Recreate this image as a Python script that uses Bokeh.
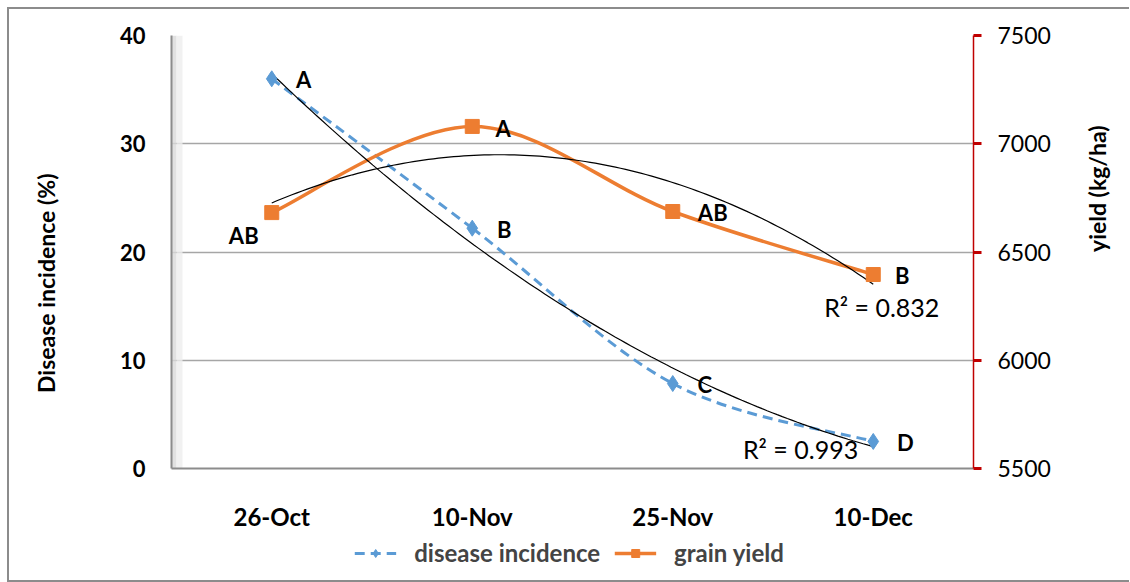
import numpy as np
from bokeh.plotting import figure
from bokeh.layouts import column, row
from bokeh.models import (Range1d, LinearAxis, Label, Legend, LegendItem, FactorRange,
                          FixedTicker, BoxAnnotation)
from bokeh.core.properties import value
from bokeh.embed import file_html
from bokeh.resources import INLINE

# ---- data ----
dates = ["26-Oct", "10-Nov", "25-Nov", "10-Dec"]
disease = [36.0, 22.2, 7.85, 2.5]
grain_yield = [6682, 7080, 6687, 6396]
disease_letters = ["A", "B", "C", "D"]
yield_letters = ["AB", "A", "AB", "B"]
left_ticks = [0, 10, 20, 30, 40]
right_ticks = [5500, 6000, 6500, 7000, 7500]

FONT = "Lato"
BLUE = "#5B9BD5"
ORANGE = "#ED7D31"
GREY = "#8C8C8C"

W, H1, H2, WT = 1120, 526, 45, 70
WP = W - WT

# ---- left strip carrying the y-axis title ----
tf = figure(width=WT, height=H1, x_range=Range1d(0, WT), y_range=Range1d(0, H1),
            output_backend="svg", toolbar_location=None, min_border=0)
tf.axis.visible = False
tf.grid.grid_line_color = None
tf.outline_line_color = None
tf.add_layout(Label(x=36, y=H1 - 301, text="Disease incidence (%)", angle=np.pi / 2,
                    text_font=FONT, text_font_size="23px", text_font_style="bold",
                    text_color="black", text_align="center", text_baseline="middle"))

# ---- main chart ----
p = figure(x_range=FactorRange(*dates), y_range=Range1d(0, 40),
           width=WP, height=H1, output_backend="svg", toolbar_location=None,
           min_border_left=92, min_border_right=WP - 894,
           min_border_top=26, min_border_bottom=H1 - 459)
p.extra_y_ranges = {"yield": Range1d(5500, 7500)}
p.outline_line_color = None

p.xaxis.axis_line_color = GREY
p.xaxis.axis_line_width = 2
p.xaxis.major_tick_line_color = None
p.xaxis.major_tick_out = 0
p.xaxis.major_tick_in = 0
p.xaxis.major_label_standoff = 33
p.xaxis.major_label_text_font = FONT
p.xaxis.major_label_text_font_style = "bold"
p.xaxis.major_label_text_font_size = "24px"
p.xaxis.major_label_text_color = "black"

p.yaxis.ticker = FixedTicker(ticks=left_ticks)
p.yaxis.axis_line_color = GREY
p.yaxis.axis_line_width = 2
p.yaxis.major_tick_line_color = None
p.yaxis.minor_tick_line_color = None
p.yaxis.major_tick_out = 0
p.yaxis.major_tick_in = 0
p.yaxis.major_label_standoff = 26
p.yaxis.major_label_text_font = FONT
p.yaxis.major_label_text_font_style = "bold"
p.yaxis.major_label_text_font_size = "22px"
p.yaxis.major_label_text_color = "black"

ry = LinearAxis(y_range_name="yield", ticker=FixedTicker(ticks=right_ticks))
ry.axis_line_color = "#C00000"
ry.axis_line_width = 1.5
ry.major_tick_line_color = "#C00000"
ry.major_tick_line_width = 3
ry.major_tick_out = 8
ry.major_tick_in = 0
ry.minor_tick_line_color = None
ry.major_label_standoff = 16
ry.major_label_text_font = FONT
ry.major_label_text_font_size = "23px"
ry.major_label_text_color = "black"
ry.axis_label = "yield (kg/ha)"
ry.axis_label_standoff = 43
ry.axis_label_text_font = FONT
ry.axis_label_text_font_style = "bold"
ry.axis_label_text_font_size = "23px"
ry.axis_label_text_color = "black"
if "axis_label_orientation" in ry.properties():
    ry.axis_label_orientation = np.pi / 2
p.add_layout(ry, "right")

p.xgrid.grid_line_color = None
p.ygrid.ticker = FixedTicker(ticks=left_ticks)
p.ygrid.grid_line_color = "#A6A6A6"
p.ygrid.grid_line_width = 1.5

# soft shadow next to the left axis
p.add_layout(BoxAnnotation(left=0, right=0.025, fill_color="#d9d9d9", fill_alpha=0.8,
                           line_color=None, level="underlay"))
p.add_layout(BoxAnnotation(left=0.025, right=0.055, fill_color="#eeeeee", fill_alpha=0.8,
                           line_color=None, level="underlay"))

xs = np.arange(len(dates)) + 0.5


def smooth(xv, yv):
    n = len(xv)
    d = dict(x0=[], y0=[], x1=[], y1=[], cx0=[], cy0=[], cx1=[], cy1=[])
    for i in range(n - 1):
        a = max(i - 1, 0)
        b = min(i + 2, n - 1)
        d["x0"].append(xv[i]); d["y0"].append(yv[i])
        d["x1"].append(xv[i + 1]); d["y1"].append(yv[i + 1])
        d["cx0"].append(xv[i] + (xv[i + 1] - xv[a]) / 6)
        d["cy0"].append(yv[i] + (yv[i + 1] - yv[a]) / 6)
        d["cx1"].append(xv[i + 1] - (xv[b] - xv[i]) / 6)
        d["cy1"].append(yv[i + 1] - (yv[b] - yv[i]) / 6)
    return d


# trendlines (2nd order polynomial)
t = np.linspace(xs[0], xs[-1], 120)
cd = np.polyfit(xs, disease, 2)
cy = np.polyfit(xs, grain_yield, 2)


def r2(c, x, y):
    y = np.asarray(y, float)
    f = np.polyval(c, x)
    return 1 - np.sum((y - f) ** 2) / np.sum((y - y.mean()) ** 2)


p.bezier(source=smooth(list(xs), disease), x0="x0", y0="y0", x1="x1", y1="y1",
         cx0="cx0", cy0="cy0", cx1="cx1", cy1="cy1",
         line_color=BLUE, line_width=3, line_dash="10 6")
p.bezier(source=smooth(list(xs), grain_yield), x0="x0", y0="y0", x1="x1", y1="y1",
         cx0="cx0", cy0="cy0", cx1="cx1", cy1="cy1",
         line_color=ORANGE, line_width=3.5, y_range_name="yield")
p.line(t, np.polyval(cd, t), line_color="black", line_width=1.2)
p.line(t, np.polyval(cy, t), line_color="black", line_width=1.2, y_range_name="yield")
p.scatter(x=dates, y=disease, marker="diamond", size=16, color=BLUE)
p.scatter(x=dates, y=grain_yield, marker="square", size=14, color=ORANGE, y_range_name="yield")

txt = dict(text_font=value(FONT), text_font_style="bold", text_font_size="22px",
           text_color="black", text_baseline="middle", text_align="center")
p.text(x=dates, y=disease, text=disease_letters, x_offset=32, y_offset=1, **txt)
p.text(x=dates, y=grain_yield, text=yield_letters, x_offset=[-28, 31, 40, 29],
       y_offset=[23, 2, 1, 1], y_range_name="yield", **txt)

lab = dict(text_font=FONT, text_font_size="25px", text_color="black",
           text_baseline="middle")
p.add_layout(Label(x=3.255, y=6244, y_range_name="yield",
                   text=f"R\u00b2 = {r2(cy, xs, grain_yield):.3f}", **lab))
p.add_layout(Label(x=2.85, y=1.76, text=f"R\u00b2 = {r2(cd, xs, disease):.3f}", **lab))

# ---- legend strip (series drawn out of view, only their legend glyphs show) ----
q = figure(width=W, height=H2, x_range=Range1d(0, 4), y_range=Range1d(-2, -1),
           output_backend="svg", toolbar_location=None, min_border=0)
q.axis.visible = False
q.grid.grid_line_color = None
q.outline_line_color = None
l1 = q.line(x=xs, y=disease, line_color=BLUE, line_width=3, line_dash="10 6")
m1 = q.scatter(x=xs, y=disease, marker="diamond", size=16, color=BLUE)
l2 = q.line(x=xs, y=grain_yield, line_color=ORANGE, line_width=3.5)
m2 = q.scatter(x=xs, y=grain_yield, marker="square", size=14, color=ORANGE)
leg = Legend(items=[LegendItem(label="disease incidence", renderers=[l1, m1]),
                    LegendItem(label="grain yield", renderers=[l2, m2])],
             orientation="horizontal", location="top",
             border_line_alpha=0, background_fill_alpha=0,
             label_text_font=FONT, label_text_font_style="bold", label_text_font_size="24px",
             glyph_width=42, glyph_height=20, spacing=14, label_standoff=18,
             padding=0, margin=3)
q.add_layout(leg)

page = column(row(tf, p, spacing=0), q, spacing=0)
page.styles = {"margin-left": "7px", "margin-top": "7px",
               "border-top": "2px solid #8C8C8C", "border-left": "2px solid #8C8C8C",
               "border-bottom": "2px solid #8C8C8C"}

open("out.html", "w").write(file_html(page, INLINE))
